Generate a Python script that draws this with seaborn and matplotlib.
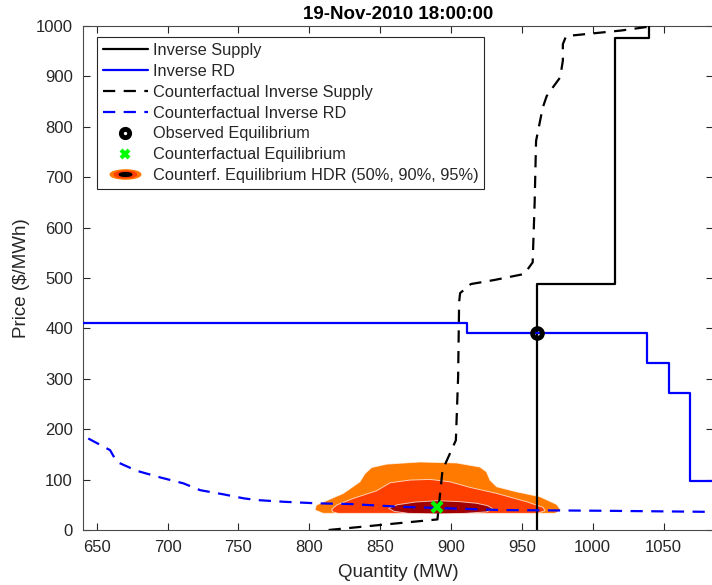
import matplotlib
matplotlib.use("Agg")
import matplotlib.pyplot as plt
import numpy as np
import seaborn as sns
from matplotlib.lines import Line2D
from matplotlib.legend_handler import HandlerTuple
from matplotlib.path import Path
from matplotlib.transforms import Affine2D

# observed inverse supply (steps-post vertices: quantity MW, price $/MWh)
supply_mw = [961, 961, 1016, 1040]
supply_price = [0, 489, 977, 1010]

# observed inverse residual demand (steps-post)
rd_mw = [640, 911, 1038, 1053.5, 1068.4, 1090]
rd_price = [410.5, 391.5, 332, 272.7, 97.6, 97.6]

# counterfactual inverse supply
cf_supply_mw = [813.6, 890.4, 894, 903.4, 905, 905.7, 906.4, 914, 930.5, 951.7, 957.6,
                959, 960, 964.7, 967.5, 971.8, 977, 978.9, 978.9, 981.2, 998.9, 1020, 1038]
cf_supply_price = [0, 21, 119, 178, 304, 452, 470, 488, 496, 508, 531,
                   650, 772, 838, 861, 878, 898, 931, 964, 980, 985, 991, 998]

# counterfactual inverse residual demand
cf_rd_mw = [644, 659.4, 664.1, 678.3, 694.8, 711.2, 723, 739.5, 753.7, 763.1, 782,
            805.6, 829, 864.5, 935.2, 1005.9, 1090]
cf_rd_price = [181.6, 158.4, 135.2, 117.4, 104.3, 92.5, 79, 70.7, 62.8, 59.4, 56,
               52.9, 51.5, 46, 39.6, 38.2, 35.8]

# equilibria
obs_eq = (961, 391.5)
cf_eq = (890.4, 46)

# HDR outlines of the counterfactual equilibrium
hdr95_mw = [805, 824, 835.7, 839.3, 844, 854.6, 878, 904, 920.4, 925, 927.5, 932.2, 946.3,
            962.8, 974.5, 977.4, 973.4, 809.8, 804]
hdr95_price = [49.5, 72.6, 95.6, 112, 124, 130.7, 135, 133, 125, 115.5, 99, 85.8, 75.8,
               66, 50.8, 39.6, 33, 33, 39.6]
hdr90_mw = [815.8, 819.3, 831, 847.5, 857, 871, 885.2, 899.3, 913.4, 932.2, 953.4, 965,
            966.3, 961, 820.4, 816.5]
hdr90_price = [41, 49.5, 62.7, 77.8, 93.7, 99, 100.4, 95.6, 84.5, 72.6, 56, 44.9,
               38.3, 33, 33, 36]
hdr50_mw = [856, 862, 875, 890, 905, 918, 926, 929.5, 925, 910, 890, 870, 860]
hdr50_price = [43, 50, 55.5, 58, 56.5, 53, 48, 42, 36, 33, 32, 33, 37]

sns.set_style("ticks")
plt.rcParams["font.family"] = ["Liberation Sans", "DejaVu Sans"]
plt.rcParams["font.size"] = 12

axis_col = "#262626"
c95, c90, c50 = "#FF7A00", "#FF3F00", "#A00000"
dash = (0, (5.5, 3.8))

fig = plt.figure(figsize=(7.12, 5.85), dpi=100)
ax = fig.add_axes([82.6 / 712, 55 / 585, 630.6 / 712, 504 / 585])

# HDR regions
for qs, ps, col in [(hdr95_mw, hdr95_price, c95), (hdr90_mw, hdr90_price, c90),
                    (hdr50_mw, hdr50_price, c50)]:
    ax.fill(qs, ps, facecolor=col, edgecolor=(1, 1, 1, 0.7), linewidth=0.7, zorder=1)

lw = 1.6
sns.lineplot(x=supply_mw, y=supply_price, ax=ax, color="black", lw=lw,
             drawstyle="steps-post", sort=False, estimator=None, zorder=3)
sns.lineplot(x=rd_mw, y=rd_price, ax=ax, color="#0000FF", lw=lw,
             drawstyle="steps-post", sort=False, estimator=None, zorder=3)
sns.lineplot(x=cf_supply_mw, y=cf_supply_price, ax=ax, color="black", lw=lw,
             sort=False, estimator=None, zorder=3)
ax.lines[-1].set_linestyle(dash)
sns.lineplot(x=cf_rd_mw, y=cf_rd_price, ax=ax, color="#0000FF", lw=lw,
             sort=False, estimator=None, zorder=3)
ax.lines[-1].set_linestyle(dash)

ax.plot(*obs_eq, marker="o", ms=7, mew=3.5, mfc="none", mec="black", ls="none", zorder=5)
ax.plot(*cf_eq, marker="x", ms=7, mew=3, color="#00FF00", ls="none", zorder=5)

ax.set_xlim(640, 1085)
ax.set_ylim(0, 1000)
ax.set_xticks(np.arange(650, 1051, 50))
ax.set_yticks(np.arange(0, 1001, 100))
ax.tick_params(direction="in", top=True, right=True, length=5, width=0.8, pad=7,
               color=axis_col, labelcolor=axis_col, labelsize=12)
for s in ax.spines.values():
    s.set_visible(True)
    s.set_color("#4a4a4a")
    s.set_linewidth(0.8)

ax.set_xlabel("Quantity (MW)", fontsize=13.5, color=axis_col, labelpad=7)
ax.set_ylabel("Price ($/MWh)", fontsize=13.5, color=axis_col, labelpad=4)
ax.set_title("19-Nov-2010 18:00:00", fontsize=13.5, fontweight="bold", color="black", pad=5)

# legend
ell = Path.unit_circle().transformed(Affine2D().scale(1, 0.3))
h_sup = Line2D([], [], color="black", lw=lw)
h_rd = Line2D([], [], color="#0000FF", lw=lw)
h_cfs = Line2D([], [], color="black", lw=lw, linestyle=dash)
h_cfr = Line2D([], [], color="#0000FF", lw=lw, linestyle=dash)
h_obs = Line2D([], [], marker="o", ms=6, mew=3.5, mfc="none", mec="black", ls="none")
h_cf = Line2D([], [], marker="x", ms=6, mew=3, color="#00FF00", ls="none")
h_hdr = (Line2D([], [], marker=ell, ms=22, mfc=c95, mec=c95, ls="none"),
         Line2D([], [], marker=ell, ms=16, mfc=c90, mec=c90, ls="none"),
         Line2D([], [], marker=ell, ms=9, mfc="black", mec="black", ls="none"))
leg = ax.legend([h_sup, h_rd, h_cfs, h_cfr, h_obs, h_cf, h_hdr],
                ["Inverse Supply", "Inverse RD", "Counterfactual Inverse Supply",
                 "Counterfactual Inverse RD", "Observed Equilibrium",
                 "Counterfactual Equilibrium", "Counterf. Equilibrium HDR (50%, 90%, 95%)"],
                handler_map={tuple: HandlerTuple(ndivide=1)},
                loc="upper left", bbox_to_anchor=(0.0228, 0.978), borderaxespad=0,
                fontsize=11.8, handlelength=2.75, handletextpad=0.3, labelspacing=0.36,
                borderpad=0.35, fancybox=False, framealpha=1, edgecolor=axis_col)
leg.get_frame().set_linewidth(0.8)

fig.savefig("out.png", dpi=100)
